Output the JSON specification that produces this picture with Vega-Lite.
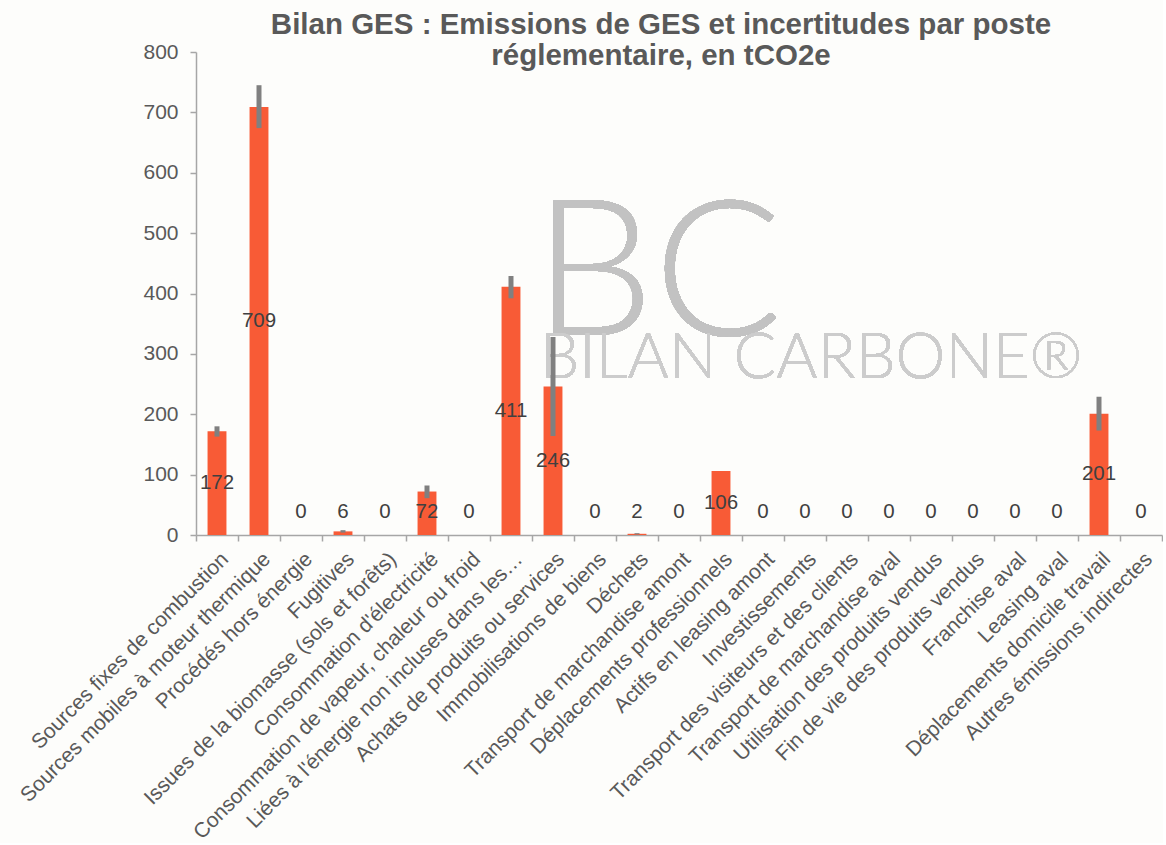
{
  "$schema": "https://vega.github.io/schema/vega-lite/v6.json",
  "width": 966,
  "height": 483,
  "padding": {"left": 16, "top": 9, "right": 0, "bottom": 0},
  "background": "#FDFDFB",
  "title": {
    "text": ["Bilan GES : Emissions de GES et incertitudes par poste", "réglementaire, en tCO2e"],
    "font": "Liberation Sans",
    "fontSize": 29.5,
    "fontWeight": "bold",
    "color": "#595959",
    "anchor": "middle",
    "frame": "group",
    "dx": -18,
    "offset": -30,
    "lineHeight": 31
  },
  "config": {
    "view": {"stroke": null},
    "font": "Liberation Sans"
  },
  "data": {
    "values": [
      {"cat": "Sources fixes de combustion", "value": 172, "low": 163, "high": 180},
      {"cat": "Sources mobiles à moteur thermique", "value": 709, "low": 674, "high": 745},
      {"cat": "Procédés hors énergie", "value": 0, "low": 0, "high": 0},
      {"cat": "Fugitives", "value": 6, "low": 4, "high": 8},
      {"cat": "Issues de la biomasse (sols et forêts)", "value": 0, "low": 0, "high": 0},
      {"cat": "Consommation d'électricité", "value": 72, "low": 61, "high": 82},
      {"cat": "Consommation de vapeur, chaleur ou froid", "value": 0, "low": 0, "high": 0},
      {"cat": "Liées à l'énergie non incluses dans les…", "value": 411, "low": 392, "high": 429},
      {"cat": "Achats de produits ou services", "value": 246, "low": 164, "high": 328},
      {"cat": "Immobilisations de biens", "value": 0, "low": 0, "high": 0},
      {"cat": "Déchets", "value": 2, "low": 1, "high": 3},
      {"cat": "Transport de marchandise amont", "value": 0, "low": 0, "high": 0},
      {"cat": "Déplacements professionnels", "value": 106, "low": 106, "high": 106},
      {"cat": "Actifs en leasing amont", "value": 0, "low": 0, "high": 0},
      {"cat": "Investissements", "value": 0, "low": 0, "high": 0},
      {"cat": "Transport des visiteurs et des clients", "value": 0, "low": 0, "high": 0},
      {"cat": "Transport de marchandise aval", "value": 0, "low": 0, "high": 0},
      {"cat": "Utilisation des produits vendus", "value": 0, "low": 0, "high": 0},
      {"cat": "Fin de vie des produits vendus", "value": 0, "low": 0, "high": 0},
      {"cat": "Franchise aval", "value": 0, "low": 0, "high": 0},
      {"cat": "Leasing aval", "value": 0, "low": 0, "high": 0},
      {"cat": "Déplacements domicile travail", "value": 201, "low": 173, "high": 229},
      {"cat": "Autres émissions indirectes", "value": 0, "low": 0, "high": 0}
    ]
  },
  "encoding": {
    "x": {
      "field": "cat",
      "type": "nominal",
      "sort": null,
      "scale": {
        "paddingInner": 0,
        "paddingOuter": 0,
        "domain": [
          "Sources fixes de combustion",
          "Sources mobiles à moteur thermique",
          "Procédés hors énergie",
          "Fugitives",
          "Issues de la biomasse (sols et forêts)",
          "Consommation d'électricité",
          "Consommation de vapeur, chaleur ou froid",
          "Liées à l'énergie non incluses dans les…",
          "Achats de produits ou services",
          "Immobilisations de biens",
          "Déchets",
          "Transport de marchandise amont",
          "Déplacements professionnels",
          "Actifs en leasing amont",
          "Investissements",
          "Transport des visiteurs et des clients",
          "Transport de marchandise aval",
          "Utilisation des produits vendus",
          "Fin de vie des produits vendus",
          "Franchise aval",
          "Leasing aval",
          "Déplacements domicile travail",
          "Autres émissions indirectes"
        ]
      },
      "axis": {
        "title": null,
        "labelAngle": -45,
        "labelFontSize": 21,
        "labelColor": "#595959",
        "labelLimit": 0,
        "labelPadding": 7,
        "tickSize": 6,
        "tickBand": "extent",
        "tickColor": "#A6A6A6",
        "domainColor": "#A6A6A6",
        "domainWidth": 1.5,
        "tickWidth": 1.5
      }
    }
  },
  "layer": [
    {
      "mark": {"type": "text", "font": "Lato", "fontWeight": 300, "fontSize": 190, "color": "#C2C2C2", "align": "center", "baseline": "alphabetic", "dx": -21},
      "encoding": {
        "x": {"datum": "Transport de marchandise amont"},
        "y": {"datum": 331},
        "text": {"value": "BC"}
      }
    },
    {
      "mark": {"type": "text", "font": "Lato", "fontWeight": 300, "fontSize": 63, "color": "#CCCCCC", "align": "center", "baseline": "alphabetic", "dx": 6},
      "encoding": {
        "x": {"datum": "Investissements"},
        "y": {"datum": 260},
        "text": {"value": "BILAN CARBONE®"}
      }
    },
    {
      "mark": {"type": "bar", "color": "#F85B36", "width": {"band": 0.45}},
      "encoding": {
        "y": {
          "field": "value",
          "type": "quantitative",
          "scale": {"domain": [0, 800], "nice": false},
          "axis": {
            "title": null,
            "values": [0, 100, 200, 300, 400, 500, 600, 700, 800],
            "grid": false,
            "labelFontSize": 21,
            "labelColor": "#595959",
            "labelPadding": 12,
            "tickSize": 6,
            "tickColor": "#A6A6A6",
            "domainColor": "#A6A6A6",
            "domainWidth": 1.5,
            "tickWidth": 1.5
          }
        }
      }
    },
    {
      "mark": {"type": "rule", "color": "#808080", "strokeWidth": 5},
      "encoding": {
        "y": {"field": "low", "type": "quantitative"},
        "y2": {"field": "high"}
      }
    },
    {
      "transform": [{"calculate": "max(datum.value / 2, 38)", "as": "labelY"}],
      "mark": {"type": "text", "fontSize": 20.5, "color": "#404040", "baseline": "middle", "align": "center"},
      "encoding": {
        "y": {"field": "labelY", "type": "quantitative"},
        "text": {"field": "value", "type": "quantitative"}
      }
    }
  ]
}
